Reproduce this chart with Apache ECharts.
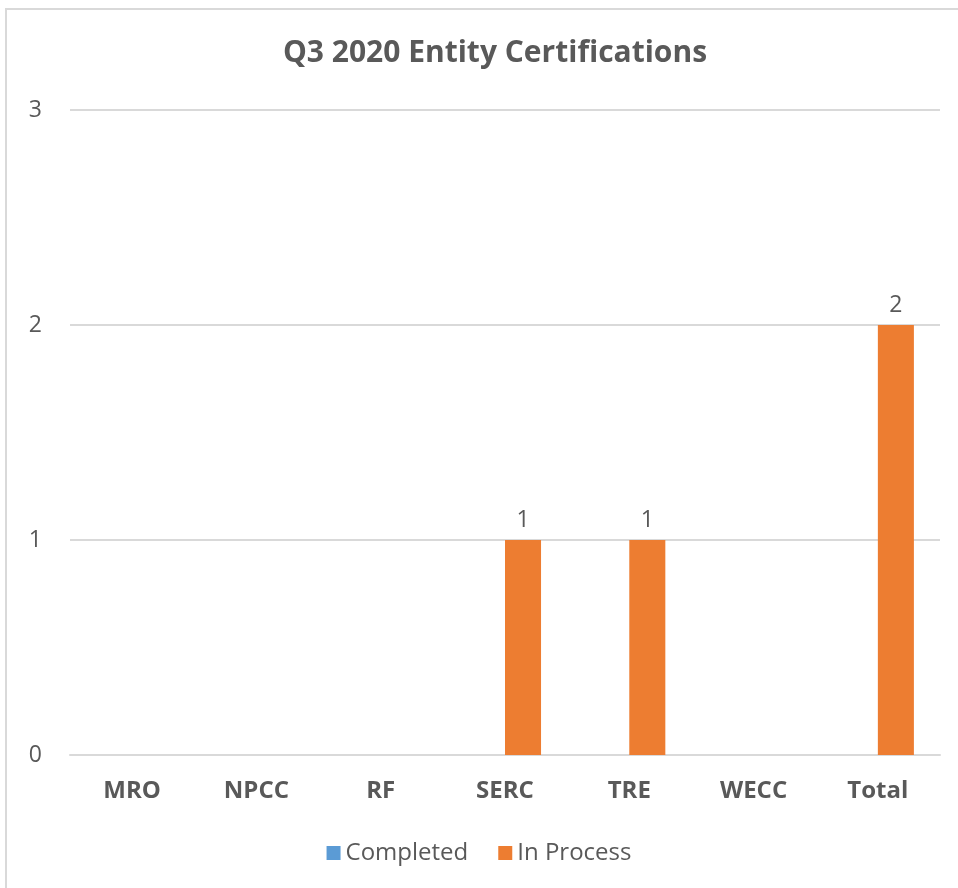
<!DOCTYPE html>
<html>
<head>
<meta charset="utf-8">
<script src="https://cdn.jsdelivr.net/npm/echarts@6/dist/echarts.min.js"></script>
<style>
  html, body { margin: 0; padding: 0; background: #fff; overflow: hidden; }
  #frame {
    position: absolute; left: 5px; top: 8px;
    width: 970px; height: 900px;
    border: 2px solid #d9d9d9; box-sizing: border-box;
  }
  #chart { position: absolute; left: 0; top: 0; width: 958px; height: 888px; }
</style>
</head>
<body>
<div id="frame"></div>
<div id="chart"></div>
<script>
  const categories = ['MRO', 'NPCC', 'RF', 'SERC', 'TRE', 'WECC', 'Total']
  const completed = [0, 0, 0, 0, 0, 0, 0]
  const inProcess = [0, 0, 0, 1, 1, 0, 2]
  const yTicks = [0, 1, 2, 3]

  const textColor = '#595959'
  const font = '"Open Sans", "Liberation Sans", sans-serif'

  const labelIfNonZero = {
    show: true,
    position: 'top',
    distance: 8,
    color: textColor,
    fontSize: 23,
    fontFamily: font,
    formatter: p => (p.value ? p.value : '')
  }

  const chart = echarts.init(document.getElementById('chart'))
  chart.setOption({
    animation: false,
    title: {
      text: 'Q3 2020 Entity Certifications',
      left: 490,
      textAlign: 'center',
      top: 33,
      textStyle: { color: textColor, fontSize: 30, fontWeight: 'bold', fontFamily: font }
    },
    legend: {
      bottom: 18,
      left: 'center',
      itemWidth: 14,
      itemHeight: 14,
      itemGap: 30,
      icon: 'rect',
      textStyle: { color: textColor, fontSize: 24, fontFamily: font }
    },
    grid: { left: 70, right: 18, top: 110, bottom: 133 },
    xAxis: {
      type: 'category',
      data: categories,
      axisLine: { lineStyle: { color: '#d9d9d9', width: 2 } },
      axisTick: { show: false },
      axisLabel: {
        color: textColor, fontSize: 24, fontWeight: 'bold', fontFamily: font, margin: 24
      }
    },
    yAxis: {
      type: 'value',
      min: yTicks[0],
      max: yTicks[yTicks.length - 1],
      interval: 1,
      axisLine: { show: false },
      axisTick: { show: false },
      splitLine: { lineStyle: { color: '#d9d9d9', width: 2 } },
      axisLabel: { color: textColor, fontSize: 23, fontFamily: font, margin: 28 }
    },
    series: [
      {
        name: 'Completed',
        type: 'bar',
        data: completed,
        barGap: 0,
        barCategoryGap: '42%',
        itemStyle: { color: '#5b9bd5' },
        label: labelIfNonZero
      },
      {
        name: 'In Process',
        type: 'bar',
        data: inProcess,
        itemStyle: { color: '#ed7d31' },
        label: labelIfNonZero
      }
    ]
  })
</script>
</body>
</html>
